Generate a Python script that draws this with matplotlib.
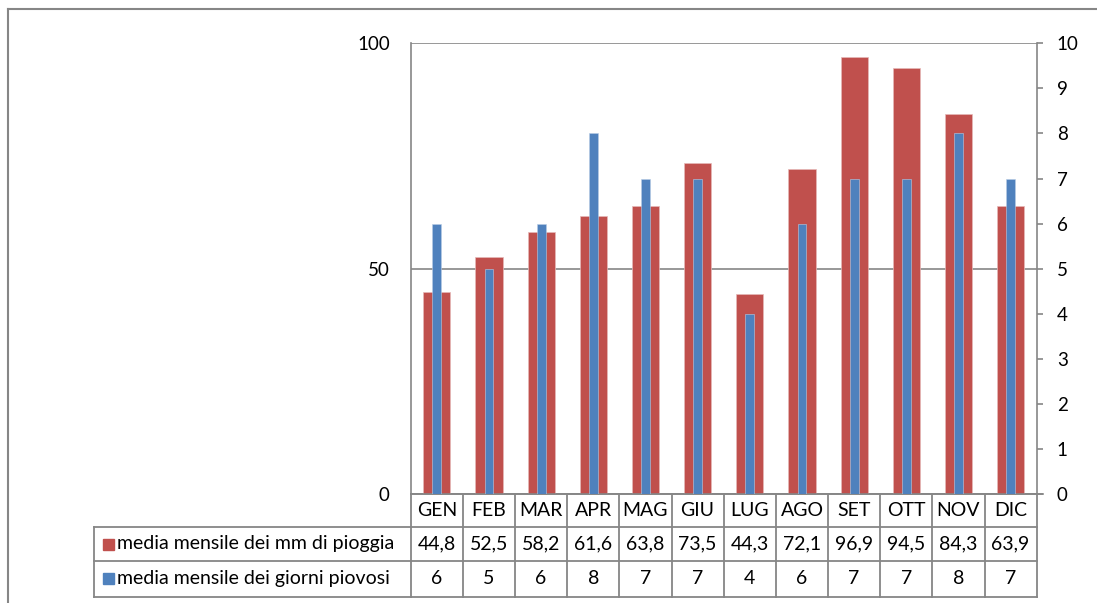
import matplotlib
matplotlib.use("Agg")
import matplotlib.pyplot as plt
from matplotlib.lines import Line2D
from matplotlib.patches import Rectangle
from matplotlib.transforms import blended_transform_factory

plt.rcParams['font.family'] = ['Lato', 'DejaVu Sans']

months = ["GEN", "FEB", "MAR", "APR", "MAG", "GIU", "LUG", "AGO", "SET", "OTT", "NOV", "DIC"]
rain_mm = [44.8, 52.5, 58.2, 61.6, 63.8, 73.5, 44.3, 72.1, 96.9, 94.5, 84.3, 63.9]
rain_days = [6, 5, 6, 8, 7, 7, 4, 6, 7, 7, 8, 7]
rain_mm_labels = ["44,8", "52,5", "58,2", "61,6", "63,8", "73,5", "44,3", "72,1", "96,9", "94,5", "84,3", "63,9"]
series_names = ["media mensile dei mm di pioggia", "media mensile dei giorni piovosi"]
left_ticks = [0, 50, 100]
right_ticks = list(range(0, 11))

RED = "#C0504D"
BLUE = "#4F81BD"
GRID = "#868686"
FS_TICK = 13.5
FS_TAB = 14

W, H = 1097, 603
fig = plt.figure(figsize=(W / 100, H / 100), dpi=100)
fig.patch.set_facecolor("white")

# outer chart frame
fig.add_artist(Line2D([8 / W, 8 / W], [0, 1 - 9 / H], color=GRID, lw=1.5, transform=fig.transFigure))
fig.add_artist(Line2D([8 / W, 1], [1 - 9 / H, 1 - 9 / H], color=GRID, lw=1.5, transform=fig.transFigure))

x0, x1, y_top, y_bot = 410.7, 1036.7, 43.3, 494
ax = fig.add_axes([x0 / W, 1 - y_bot / H, (x1 - x0) / W, (y_bot - y_top) / H])
ax2 = ax.twinx()

xs = list(range(len(months)))
ax.bar(xs, rain_mm, width=0.52, color=RED, edgecolor="#E6B9B8", linewidth=0.5, zorder=3)
ax2.bar(xs, rain_days, width=0.17, color=BLUE, edgecolor="#B9CDE5", linewidth=0.4, zorder=3)

ax.set_xlim(-0.5, len(months) - 0.5)
ax.set_ylim(0, 100)
ax2.set_ylim(0, 10)
ax.set_yticks(left_ticks)
ax2.set_yticks(right_ticks)
ax.set_xticks([])
ax.yaxis.grid(True, color=GRID, lw=1.2, zorder=0)
ax.set_axisbelow(True)
ax.tick_params(axis="y", length=0, pad=15, labelsize=FS_TICK)
ax2.tick_params(axis="y", length=4.5, width=1.2, color=GRID, pad=10, labelsize=FS_TICK)

for a in (ax, ax2):
    a.spines["top"].set_visible(False)
    for s in ("left", "right", "bottom"):
        a.spines[s].set_color(GRID)
        a.spines[s].set_linewidth(1.2)
ax2.spines["left"].set_visible(False)
ax.spines["right"].set_visible(False)

# baseline continues under the right tick length
fig.add_artist(Line2D([x1 / W, 1043 / W], [1 - y_bot / H] * 2, color=GRID, lw=1.2, transform=fig.transFigure))

# data table under the plot
tr = blended_transform_factory(ax.transData, fig.transFigure)
rows = [494, 527, 561, 596.7]
ry = [1 - r / H for r in rows]
leg_left = 94

def fline(xa, xb, ya, yb, transform):
    fig.add_artist(Line2D([xa, xb], [ya, yb], color=GRID, lw=1.3, transform=transform))

n = len(months)
for k in (1, 2, 3):
    fline(-0.5, n - 0.5, ry[k], ry[k], tr)
    fline(leg_left / W, x0 / W, ry[k], ry[k], fig.transFigure)
for i in range(n + 1):
    fline(i - 0.5, i - 0.5, ry[0], ry[3], tr)
fline(leg_left / W, leg_left / W, ry[1], ry[3], fig.transFigure)

for i, m in enumerate(months):
    fig.text(i, (ry[0] + ry[1]) / 2, m, transform=tr, ha="center", va="center", fontsize=FS_TAB)
    fig.text(i, (ry[1] + ry[2]) / 2, rain_mm_labels[i], transform=tr, ha="center", va="center", fontsize=FS_TAB)
    fig.text(i, (ry[2] + ry[3]) / 2, str(rain_days[i]), transform=tr, ha="center", va="center", fontsize=FS_TAB)

for k, (name, col) in enumerate(zip(series_names, [RED, BLUE])):
    yc = (ry[k + 1] + ry[k + 2]) / 2
    sq = 11
    fig.add_artist(Rectangle((102.5 / W, yc - sq / 2 / H), sq / W, sq / H, color=col, transform=fig.transFigure))
    fig.text(117 / W, yc, name, ha="left", va="center", fontsize=FS_TAB)

fig.savefig("out.png", dpi=100)
